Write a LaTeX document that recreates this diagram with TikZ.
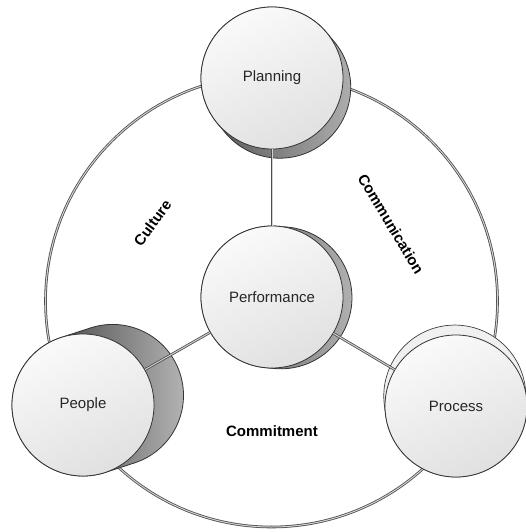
\documentclass[tikz,border=0pt]{standalone}
\usepackage{fontspec}
\setmainfont{Liberation Sans}
\usetikzlibrary{calc}
\pgfdeclarelayer{ringlayer}
\pgfdeclarelayer{bodylayer}
\pgfsetlayers{ringlayer,bodylayer,main}

\tikzset{
  face/.style={circle, draw=black!80, line width=0.8pt, minimum size=142pt, inner sep=0pt,
    top color=gray!4, bottom color=gray!24, shading angle=25,
    font=\fontsize{15}{18}\selectfont, text=black!85},
  darkside/.style={draw=black!80, line width=0.8pt, left color=black!85, right color=gray!55},
  midside/.style={draw=black!80, line width=0.8pt, left color=black!70, right color=gray!60},
  lightside/.style={draw=black!75, line width=0.7pt, fill=gray!12},
  rope/.style={draw=black!70, line width=2.6pt},
  ropecore/.style={draw=gray!35, line width=1pt},
  theme/.style={font=\bfseries\fontsize{15}{18}\selectfont, text=black},
}

% #1 face node, #2 direction of depth, #3 depth, #4 style of the cylinder side
\newcommand\discbody[4]{%
  \path[#4] ($(#1.center)+(#2:#3)$) ++(#2-90:71)
    arc[start angle=#2-90, delta angle=180, radius=71]
    -- ($(#1.center)+(#2+90:71)$)
    arc[start angle=#2+90, delta angle=180, radius=71] -- cycle;}

\begin{document}
\begin{tikzpicture}[x=1pt, y=1pt]
\useasboundingbox (0,0) rectangle (525,-532);

% the four discs
\node[face] (plan)   at (272,-78)  {Planning};
\node[face] (perf)   at (272,-297) {Performance};
\node[face] (people) at (83,-405)  {People};
\node[face] (proc)   at (456,-406) {Process};

% cylinder bodies behind the faces
\begin{pgfonlayer}{bodylayer}
  \discbody{plan}{-50}{12}{midside}
  \discbody{perf}{-5}{9}{midside}
  \discbody{people}{18}{31}{darkside}
  \discbody{proc}{97}{10}{lightside}
\end{pgfonlayer}

% outer ring through the three outer discs
\coordinate (hub) at (271.5,-301);
\begin{pgfonlayer}{ringlayer}
  \draw[rope] (hub) circle[radius=226];
  \draw[ropecore] (hub) circle[radius=226];
\end{pgfonlayer}

% spokes from the centre disc
\foreach \t in {plan, people, proc} {
  \draw[rope] (perf) -- (\t);
  \draw[ropecore] (perf) -- (\t);
}

% themes between the discs
\node[theme, rotate=54]  (culture) at (152.5,-223) {Culture};
\node[theme, rotate=-59] (comm)    at (391,-224)   {Communication};
\node[theme]             (commit)  at (272,-431)   {Commitment};
\end{tikzpicture}
\end{document}
